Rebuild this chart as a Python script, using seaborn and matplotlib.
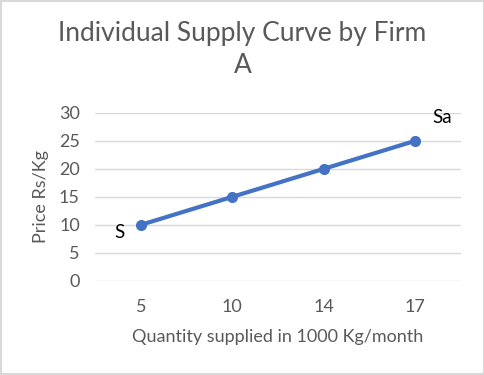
import matplotlib
matplotlib.use('Agg')
import pandas as pd
import matplotlib.pyplot as plt
import seaborn as sns

# data
quantity = ['5', '10', '14', '17']
price = [10, 15, 20, 25]
y_ticks = [0, 5, 10, 15, 20, 25, 30]

df = pd.DataFrame({'quantity': quantity, 'price': price})

sns.set_theme(style='white')
plt.rcParams['font.family'] = ['Lato', 'DejaVu Sans']

fig = plt.figure(figsize=(4.85, 3.75), dpi=100)
ax = fig.add_axes([0.196, 0.251, 0.754, 0.448])

sns.lineplot(data=df, x='quantity', y='price', ax=ax, color='#4472C4',
             linewidth=3, marker='o', markersize=8, markeredgewidth=0, sort=False)

ax.set_xlim(-0.5, 3.5)
ax.set_ylim(0, 30)
ax.set_yticks(y_ticks)
ax.grid(axis='y', color='#d9d9d9', linewidth=1)
ax.set_axisbelow(True)
for s in ax.spines.values():
    s.set_visible(False)
ax.tick_params(axis='both', length=0, labelsize=13, labelcolor='#595959')
ax.tick_params(axis='x', pad=13)
ax.tick_params(axis='y', pad=11)

# title centred on the whole chart
fig.text(0.5, 0.945, 'Individual Supply Curve by Firm\nA', fontsize=19, color='#595959',
         ha='center', va='top', linespacing=1.38)
ax.set_xlabel('Quantity supplied in 1000 Kg/month', fontsize=13, color='#595959', labelpad=10)
ax.set_ylabel('Price Rs/Kg', fontsize=13, color='#595959', labelpad=7)

# labels at the ends of the curve
ax.text(-0.23, 8.6, 'S', fontsize=13.5, color='black', ha='center', va='center')
ax.text(0.3 + 3, 29.1, 'Sa', fontsize=13.5, color='black', ha='center', va='center')

# chart border
fig.patches.append(plt.Rectangle((0.002, 0.003), 0.996, 0.994, transform=fig.transFigure,
                                 fill=False, edgecolor='#d9d9d9', linewidth=1.5))

fig.savefig('out.png', dpi=100)
